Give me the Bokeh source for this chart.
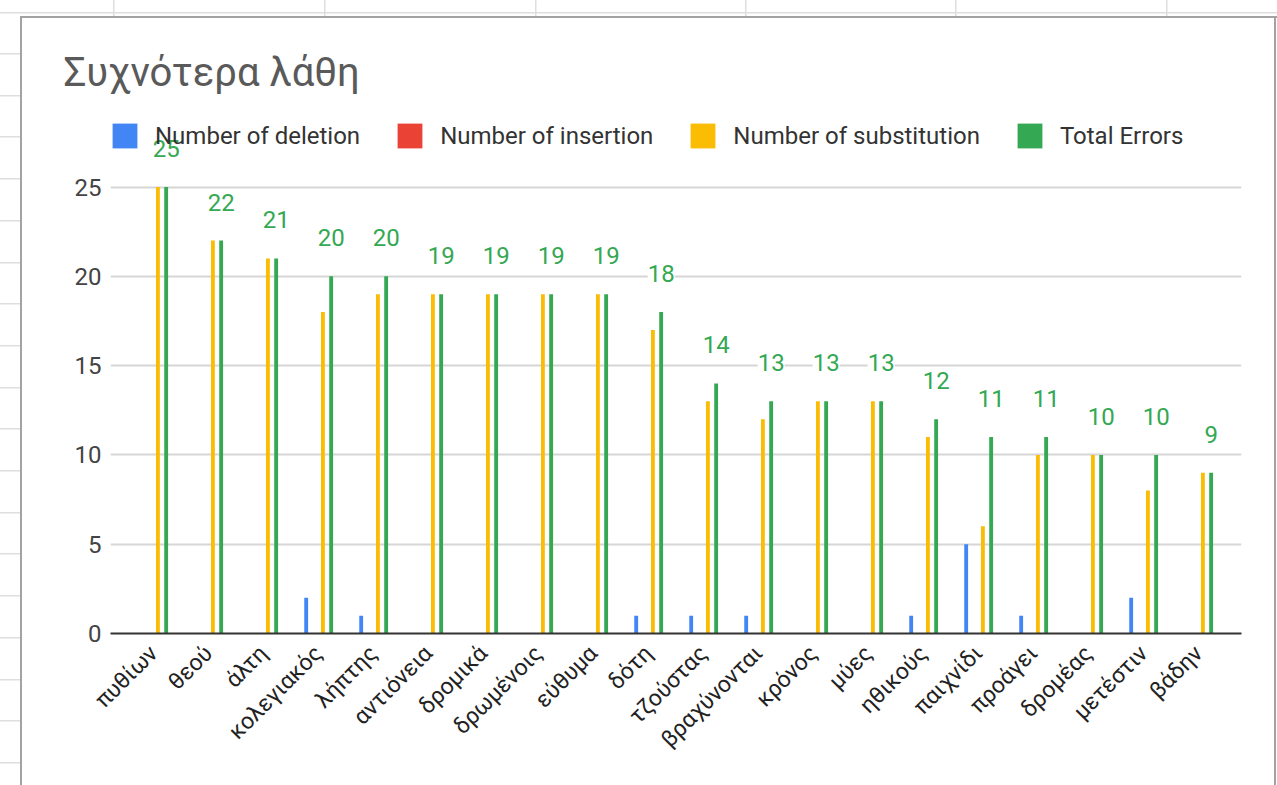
import math
from bokeh.plotting import figure
from bokeh.models import (ColumnDataSource, FactorRange, Range1d, FixedTicker,
                          Legend, LegendItem, LabelSet)
from bokeh.core.properties import value
from bokeh.transform import dodge
from bokeh.embed import file_html
from bokeh.resources import INLINE

# ---------------- data ----------------
title_text = "Συχνότερα λάθη"
words = ["πυθίων", "θεού", "άλτη", "κολεγιακός", "λήπτης", "αντιόνεια", "δρομικά",
         "δρωμένοις", "εύθυμα", "δότη", "τζούστας", "βραχύνονται", "κρόνος", "μύες",
         "ηθικούς", "παιχνίδι", "προάγει", "δρομέας", "μετέστιν", "βάδην"]
deletion = [0, 0, 0, 2, 1, 0, 0, 0, 0, 1, 1, 1, 0, 0, 1, 5, 1, 0, 2, 0]
insertion = [0, 0, 0, 0, 0, 0, 0, 0, 0, 0, 0, 0, 0, 0, 0, 0, 0, 0, 0, 0]
substitution = [25, 22, 21, 18, 19, 19, 19, 19, 19, 17, 13, 12, 13, 13, 11, 6, 10, 10, 8, 9]
total_errors = [25, 22, 21, 20, 20, 19, 19, 19, 19, 18, 14, 13, 13, 13, 12, 11, 11, 10, 10, 9]
series_names = ["Number of deletion", "Number of insertion", "Number of substitution", "Total Errors"]
y_ticks = [0, 5, 10, 15, 20, 25]

# ---------------- layout constants ----------------
W, H = 1277, 785
FL, FR, FT, FB = 110, 1241, 100, 633          # frame edges in canvas px
PX_PER_UNIT = 17.86
FONT = "Roboto"

src = ColumnDataSource(dict(word=words, deletion=deletion, insertion=insertion,
                            substitution=substitution, total=total_errors,
                            label=[str(v) for v in total_errors]))

p = figure(width=W, height=H,
           x_range=FactorRange(factors=words, range_padding=0.282, range_padding_units="absolute"),
           y_range=Range1d(0, (FB - FT) / PX_PER_UNIT),
           output_backend="svg", toolbar_location=None,
           min_border_left=FL, min_border_right=W - FR,
           min_border_top=FT, min_border_bottom=H - FB)
p.outline_line_color = None
p.background_fill_color = "white"
p.border_fill_alpha = 0

# ---------------- spreadsheet / chart-box decoration (CSS background of the host) ----------------
def line_bg(x, y, w, h, c):
    return f"linear-gradient({c},{c}) {x}px {y}px / {w}px {h}px no-repeat"

bg = []
bg.append(line_bg(20, 16, 2, H - 16, "#a3a3a3"))      # chart box left
bg.append(line_bg(20, 16, W - 20, 2, "#a3a3a3"))      # chart box top
bg.append(line_bg(1274, 16, 2, H - 16, "#a3a3a3"))    # chart box right
bg.append(line_bg(0, 12, W, 1.5, "#dedede"))          # sheet row line
for gx in [113, 324, 535, 745, 955, 1166]:
    bg.append(line_bg(gx, 0, 1.5, 16, "#dedede"))     # sheet column lines
gy = 53.0
while gy < H:
    bg.append(line_bg(0, round(gy, 1), 20, 1.5, "#dedede"))  # sheet row stubs
    gy += 41.7
p.styles = {"background": ", ".join(bg) + ", white"}

# ---------------- bars ----------------
fields = ["deletion", "insertion", "substitution", "total"]
colors = ["#4285F4", "#EA4335", "#FBBC04", "#34A853"]
offsets = [-0.224, -0.075, 0.08, 0.23]
renderers = []
for f, c, off in zip(fields, colors, offsets):
    r = p.vbar(x=dodge("word", off, range=p.x_range), top=f, bottom=0, width=0.07,
               source=src, fill_color=c, line_color=None)
    renderers.append(r)

# ---------------- data labels ----------------
labels = LabelSet(x=dodge("word", offsets[3], range=p.x_range), y="total", text="label",
                  source=src, y_offset=30, text_align="center", text_baseline="alphabetic",
                  text_font=value(FONT), text_font_size=value("24px"), text_color="#34A853",
                  background_fill_color="white")
p.add_layout(labels)

# ---------------- axes / grid ----------------
p.yaxis.ticker = FixedTicker(ticks=y_ticks)
p.yaxis.axis_line_color = None
p.yaxis.major_tick_line_color = None
p.yaxis.minor_tick_line_color = None
p.yaxis.major_label_text_font = FONT
p.yaxis.major_label_text_font_size = "24px"
p.yaxis.major_label_text_color = "#444444"
p.yaxis.major_label_standoff = 3
p.ygrid.ticker = FixedTicker(ticks=y_ticks)
p.ygrid.grid_line_color = "#d6d6d6"
p.ygrid.grid_line_width = 2
p.xgrid.grid_line_color = None

p.xaxis.axis_line_color = "#333333"
p.xaxis.axis_line_width = 2
p.xaxis.major_tick_line_color = None
p.xaxis.minor_tick_line_color = None
p.xaxis.major_label_orientation = math.pi / 4
p.xaxis.major_label_text_font = FONT
p.xaxis.major_label_text_font_size = "23px"
p.xaxis.major_label_text_color = "#222222"
p.xaxis.major_label_standoff = 10

# ---------------- title ----------------
p.title.text = title_text
p.title.align = "left"
p.title.offset = 63 - FL
p.title.text_font = FONT
p.title.text_font_size = "40px"
p.title.text_font_style = "normal"
p.title.text_color = "#5a5a5a"

# ---------------- legend ----------------
legend = Legend(items=[LegendItem(label=n, renderers=[r]) for n, r in zip(series_names, renderers)],
                orientation="horizontal", location=(109 - FL, FB - 151),
                glyph_width=31, glyph_height=31, label_standoff=15, spacing=34,
                padding=0, margin=0, border_line_color=None, background_fill_alpha=0,
                label_text_font=FONT, label_text_font_size="24px", label_text_color="#333333")
p.add_layout(legend, "center")

open("out.html", "w").write(file_html(p, INLINE))
